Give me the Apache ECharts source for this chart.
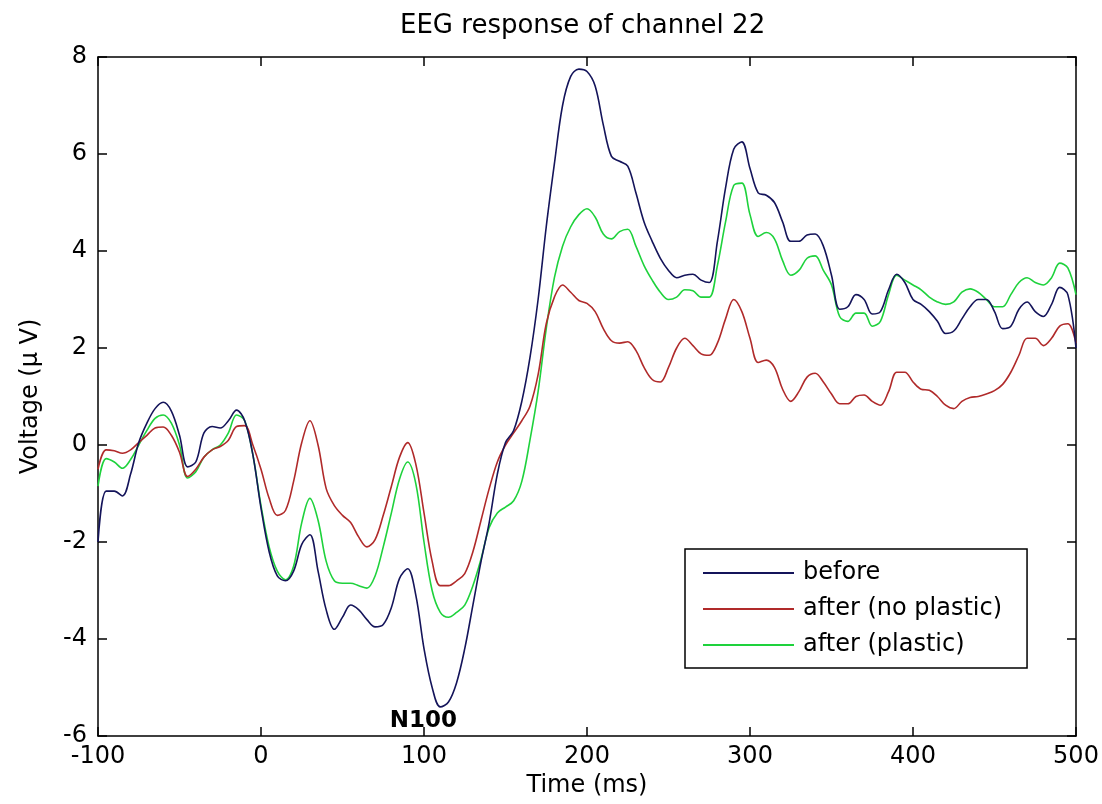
<!DOCTYPE html>
<html>
<head>
<meta charset="utf-8">
<title>EEG response of channel 22</title>
<script src="https://cdn.jsdelivr.net/npm/echarts@6/dist/echarts.min.js"></script>
<style>
  html, body { margin: 0; padding: 0; background: #fff; }
  #chart { width: 1102px; height: 804px; }
</style>
</head>
<body>
<div id="chart"></div>
<script>
// sample times (ms), 5 ms steps
const times = [
  -100, -95, -90, -85, -80, -75, -70, -65, -60, -55, -50, -45, -40, -35, -30, -25, -20, -15, -10, -5,
  0, 5, 10, 15, 20, 25, 30, 35, 40, 45, 50, 55, 60, 65, 70, 75, 80, 85, 90, 95,
  100, 105, 110, 115, 120, 125, 130, 135, 140, 145, 150, 155, 160, 165, 170, 175, 180, 185, 190, 195,
  200, 205, 210, 215, 220, 225, 230, 235, 240, 245, 250, 255, 260, 265, 270, 275, 280, 285, 290, 295,
  300, 305, 310, 315, 320, 325, 330, 335, 340, 345, 350, 355, 360, 365, 370, 375, 380, 385, 390, 395,
  400, 405, 410, 415, 420, 425, 430, 435, 440, 445, 450, 455, 460, 465, 470, 475, 480, 485, 490, 495,
  500
]

// voltages (uV)
const before = [
  -2.0, -0.95, -0.95, -1.05, -0.6, 0.05, 0.45, 0.75, 0.88, 0.7, 0.2, -0.45, -0.35, 0.25, 0.38, 0.35, 0.5, 0.72, 0.5, -0.2,
  -1.3, -2.2, -2.7, -2.8, -2.6, -2.05, -1.85, -2.6, -3.4, -3.8, -3.55, -3.3, -3.4, -3.6, -3.75, -3.7, -3.35, -2.75, -2.55, -3.1,
  -4.2, -5.0, -5.4, -5.3, -4.9, -4.2, -3.3, -2.4, -1.6, -0.6, 0.05, 0.3, 0.9, 1.8, 3.0, 4.5, 5.8, 7.0, 7.6, 7.75,
  7.7, 7.4, 6.6, 5.95, 5.85, 5.75, 5.2, 4.6, 4.2, 3.85, 3.6, 3.45, 3.5, 3.52, 3.4, 3.35, 4.2, 5.3, 6.1, 6.25,
  5.7, 5.2, 5.15, 5.0, 4.6, 4.2, 4.2, 4.33, 4.35, 4.1, 3.5, 2.8, 2.85, 3.1, 3.0, 2.7, 2.75, 3.2, 3.52, 3.35,
  3.0, 2.9, 2.75, 2.55, 2.3, 2.35, 2.6, 2.85, 3.0, 3.0, 2.75, 2.4, 2.45, 2.8, 2.95, 2.75, 2.65, 2.9, 3.25, 3.1,
  2.0
]

const afterNoPlastic = [
  -0.5, -0.1, -0.12, -0.17, -0.1, 0.05, 0.2, 0.35, 0.37, 0.2, -0.15, -0.65, -0.5, -0.25, -0.1, -0.03, 0.1, 0.38, 0.4, 0.0,
  -0.5, -1.1, -1.45, -1.35, -0.75, 0.05, 0.5, 0.0, -0.9, -1.25, -1.45, -1.6, -1.9, -2.1, -1.95, -1.45, -0.85, -0.25, 0.05, -0.4,
  -1.4, -2.4, -2.9, -2.9, -2.8, -2.65, -2.2, -1.55, -0.9, -0.35, 0.0, 0.25, 0.5, 0.8, 1.45, 2.5, 3.05, 3.3, 3.15, 2.98,
  2.92, 2.75, 2.4, 2.15, 2.1, 2.13, 1.95, 1.6, 1.35, 1.3, 1.6, 2.0, 2.2, 2.05, 1.88, 1.85, 2.1, 2.6, 3.0, 2.75,
  2.2, 1.7, 1.75, 1.6, 1.15, 0.9, 1.1, 1.4, 1.48, 1.3, 1.05, 0.85, 0.85, 1.0, 1.03, 0.9, 0.82, 1.1, 1.5, 1.5,
  1.3, 1.15, 1.13, 1.0, 0.82, 0.75, 0.9, 0.98, 1.0, 1.05, 1.12, 1.25, 1.5, 1.85, 2.2, 2.2, 2.05, 2.2, 2.45, 2.5,
  2.1
]

const afterPlastic = [
  -0.85, -0.28, -0.35, -0.48, -0.3, 0.0, 0.3, 0.55, 0.62, 0.45, 0.0, -0.68, -0.55, -0.25, -0.1, 0.0, 0.25, 0.62, 0.5, -0.2,
  -1.25, -2.1, -2.6, -2.78, -2.5, -1.6, -1.1, -1.55, -2.4, -2.8, -2.85, -2.85, -2.9, -2.95, -2.7, -2.1, -1.4, -0.7, -0.35, -0.8,
  -2.0, -3.0, -3.45, -3.55, -3.45, -3.3, -2.9, -2.35, -1.7, -1.4, -1.28, -1.15, -0.75, 0.1, 1.1, 2.4, 3.45, 4.1, 4.5, 4.75,
  4.87, 4.7, 4.35, 4.25, 4.4, 4.45, 4.1, 3.7, 3.4, 3.15, 3.0, 3.05, 3.2, 3.18, 3.05, 3.05, 3.7, 4.6, 5.35, 5.4,
  4.75, 4.3, 4.38, 4.25, 3.8, 3.5, 3.6, 3.85, 3.9, 3.6, 3.3, 2.65, 2.55, 2.72, 2.72, 2.45, 2.55, 3.1, 3.5, 3.4,
  3.3, 3.2, 3.05, 2.95, 2.9, 2.95, 3.15, 3.22, 3.15, 3.0, 2.85, 2.85, 3.1, 3.35, 3.45, 3.35, 3.3, 3.45, 3.75, 3.65,
  3.1
]

const seriesNames = ['before', 'after (no plastic)', 'after (plastic)']
const seriesColors = ['#14145a', '#b02a2a', '#1ed23c']

const font = 'DejaVu Sans'

function pairs (vals) {
  return vals.map((v, i) => [times[i], v])
}

const chart = echarts.init(document.getElementById('chart'))

// shared look for the boxed axes (ticks point inwards on all four sides)
const boxLine = { show: true, onZero: false, lineStyle: { color: '#000', width: 1.5 } }
const boxTick = { show: true, inside: true, length: 9, lineStyle: { color: '#000', width: 1.5 } }

const lines = [before, afterNoPlastic, afterPlastic].map((vals, i) => {
  return {
    name: seriesNames[i],
    type: 'line',
    data: pairs(vals),
    smooth: 0.35,
    showSymbol: false,
    lineStyle: { color: seriesColors[i], width: 1.6 },
    itemStyle: { color: seriesColors[i] },
    z: 3 - i
  }
})

// the N100 note sits under the minimum of the "before" curve
lines[0].markPoint = {
  symbol: 'circle',
  symbolSize: 2,
  itemStyle: { color: 'rgba(0,0,0,0)' },
  silent: true,
  data: [{ type: 'min', valueDim: 'y' }],
  label: {
    show: true,
    formatter: 'N100',
    position: 'inside',
    offset: [-17, 14],
    color: '#000',
    fontFamily: font,
    fontWeight: 'bold',
    fontSize: 23
  }
}

chart.setOption({
  animation: false,
  backgroundColor: '#fff',
  title: {
    text: 'EEG response of channel 22',
    left: 400,
    top: 13,
    padding: 0,
    textStyle: { fontFamily: font, fontSize: 26, fontWeight: 'normal', color: '#000' }
  },
  grid: { left: 98, right: 26, top: 57, bottom: 68 },
  legend: {
    orient: 'vertical',
    left: 685,
    top: 549,
    padding: [12, 25, 11, 18],
    itemGap: 12,
    itemWidth: 91,
    itemHeight: 2,
    icon: 'rect',
    borderColor: '#000',
    borderWidth: 1.5,
    backgroundColor: '#fff',
    textStyle: { fontFamily: font, fontSize: 24, color: '#000', padding: [0, 0, 0, 4] },
    data: seriesNames
  },
  xAxis: [
    {
      type: 'value',
      min: -100,
      max: 500,
      interval: 100,
      name: 'Time (ms)',
      nameLocation: 'middle',
      nameGap: 36,
      nameTextStyle: { fontFamily: font, fontSize: 24, color: '#000' },
      axisLine: boxLine,
      axisTick: boxTick,
      axisLabel: { margin: 9, fontFamily: font, fontSize: 24, color: '#000' },
      splitLine: { show: false }
    },
    {
      type: 'value',
      position: 'top',
      min: -100,
      max: 500,
      interval: 100,
      axisLine: boxLine,
      axisTick: boxTick,
      axisLabel: { show: false },
      splitLine: { show: false }
    }
  ],
  yAxis: [
    {
      type: 'value',
      min: -6,
      max: 8,
      interval: 2,
      name: 'Voltage (μ V)',
      nameLocation: 'middle',
      nameRotate: 90,
      nameGap: 55,
      nameTextStyle: { fontFamily: font, fontSize: 24, color: '#000' },
      axisLine: boxLine,
      axisTick: boxTick,
      axisLabel: { margin: 11, fontFamily: font, fontSize: 24, color: '#000' },
      splitLine: { show: false }
    },
    {
      type: 'value',
      position: 'right',
      min: -6,
      max: 8,
      interval: 2,
      axisLine: boxLine,
      axisTick: boxTick,
      axisLabel: { show: false },
      splitLine: { show: false }
    }
  ],
  series: lines
})
</script>
</body>
</html>
